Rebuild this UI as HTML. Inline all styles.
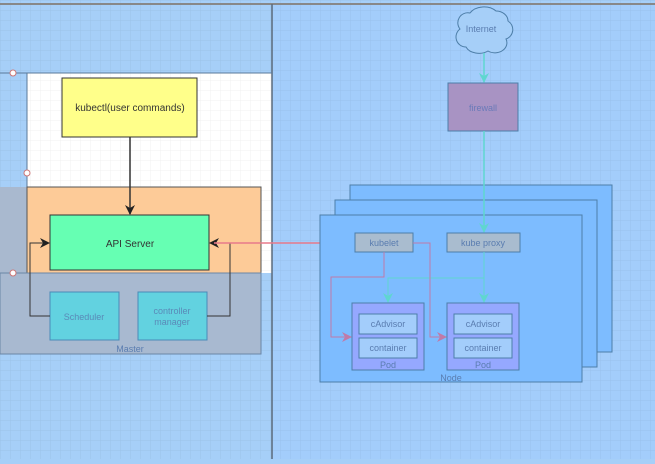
<!DOCTYPE html><html><head><style>
body{margin:0;width:655px;height:459px;overflow:hidden;background:#a6cff8;font-family:"Liberation Sans",sans-serif}
</style></head><body>
<svg width="655" height="459" xmlns="http://www.w3.org/2000/svg" font-family="Liberation Sans, sans-serif">
<defs>
<pattern id="g" width="10" height="10" patternUnits="userSpaceOnUse"><path d="M10 0H0V10" fill="none" stroke="#000" stroke-opacity="0.06"/></pattern>
<marker id="ak" markerWidth="10" markerHeight="10" refX="9" refY="5" orient="auto" markerUnits="userSpaceOnUse"><path d="M0 0L10 5L0 10L3 5Z" fill="#222"/></marker>
<marker id="ap" markerWidth="10" markerHeight="10" refX="9" refY="5" orient="auto" markerUnits="userSpaceOnUse"><path d="M0 0L10 5L0 10L3 5Z" fill="#c07aa8"/></marker>
<marker id="at" markerWidth="10" markerHeight="10" refX="9" refY="5" orient="auto" markerUnits="userSpaceOnUse"><path d="M0 0L10 5L0 10L3 5Z" fill="#5fd6cf"/></marker>
</defs>
<rect x="0" y="0" width="655" height="459" fill="#a6cff8"/>
<rect x="272" y="4" width="383" height="455" fill="#a3cdfb"/>
<rect x="27" y="73" width="245" height="200" fill="#fff"/>
<rect x="0" y="0" width="655" height="459" fill="url(#g)"/>
<line x1="0" y1="4" x2="655" y2="4" stroke="#888" stroke-width="2"/>
<line x1="272" y1="4" x2="272" y2="459" stroke="#5a6a7a" stroke-width="1.5"/>
<path d="M0 73H272M27 73V187" stroke="#5a7a9a" stroke-width="1" fill="none"/>
<rect x="0" y="187" width="27" height="86" fill="#a9b9cf"/>
<rect x="27" y="187" width="234" height="86" fill="#fdcb98" stroke="#555" stroke-width="1"/>
<rect x="0" y="273" width="261" height="81" fill="#a8b9d0" stroke="#6a86a6" stroke-width="1"/>
<text x="130" y="352" font-size="9" fill="#5a7db0" text-anchor="middle">Master</text>
<circle cx="13" cy="73" r="3" fill="#fff" stroke="#c77"/><circle cx="27" cy="173" r="3" fill="#fff" stroke="#c77"/><circle cx="13" cy="273" r="3" fill="#fff" stroke="#c77"/>
<rect x="62" y="78" width="135" height="59" fill="#ffff8a" stroke="#333"/>
<text x="130" y="111" font-size="10" fill="#333" text-anchor="middle">kubectl(user commands)</text>
<line x1="130" y1="137" x2="130" y2="214" stroke="#333" stroke-width="1.5" marker-end="url(#ak)"/>
<rect x="50" y="215" width="159" height="55" fill="#66ffb3" stroke="#333"/>
<text x="130" y="247" font-size="10" fill="#333" text-anchor="middle">API Server</text>
<rect x="50" y="292" width="69" height="48" fill="#62d2e0" stroke="#4a8ab8"/>
<text x="84" y="320" font-size="9" fill="#5a8ab8" text-anchor="middle">Scheduler</text>
<rect x="138" y="292" width="69" height="48" fill="#62d2e0" stroke="#4a8ab8"/>
<text x="172" y="314" font-size="9" fill="#5a8ab8" text-anchor="middle">controller</text>
<text x="172" y="325" font-size="9" fill="#5a8ab8" text-anchor="middle">manager</text>
<path d="M50 316H30V243H49" fill="none" stroke="#333" stroke-width="1" marker-end="url(#ak)"/>
<path d="M207 316H230V243H210" fill="none" stroke="#333" stroke-width="1" marker-end="url(#ak)"/>
<line x1="214" y1="243" x2="354" y2="243" stroke="#e87a8a" stroke-width="1.5" marker-end="url(#ap)"/>
<rect x="350" y="185" width="262" height="167" fill="#7dbcff" stroke="#4d7ea8"/>
<rect x="335" y="200" width="262" height="167" fill="#7dbcff" stroke="#4d7ea8"/>
<rect x="320" y="215" width="262" height="167" fill="#7dbcff" stroke="#4d7ea8"/>
<text x="451" y="381" font-size="9" fill="#5a7db0" text-anchor="middle">Node</text>
<path d="M470 13a16 12 0 0 1 26 -2a12 10 0 0 1 12 10a10 10 0 0 1 -2 18a12 10 0 0 1 -18 12a14 10 0 0 1 -22 -4a10 10 0 0 1 -6 -18a10 10 0 0 1 10 -16z" fill="#a6cff8" stroke="#4d7ea8"/>
<text x="481" y="32" font-size="9" fill="#5a7db0" text-anchor="middle">Internet</text>
<line x1="484" y1="53" x2="484" y2="82" stroke="#5fd6cf" stroke-width="1.5" marker-end="url(#at)"/>
<rect x="448" y="83" width="70" height="48" fill="#a893c3" stroke="#4d7ea8"/>
<text x="483" y="111" font-size="9" fill="#6a7ab8" text-anchor="middle">firewall</text>
<line x1="484" y1="131" x2="484" y2="232" stroke="#5fd6cf" stroke-width="1.5" marker-end="url(#at)"/>
<rect x="355" y="233" width="58" height="19" fill="#a9bccf" stroke="#4d7ea8"/>
<text x="384" y="246" font-size="9" fill="#5a7db0" text-anchor="middle">kubelet</text>
<rect x="447" y="233" width="73" height="19" fill="#a9bccf" stroke="#4d7ea8"/>
<text x="483" y="246" font-size="9" fill="#5a7db0" text-anchor="middle">kube proxy</text>
<path d="M484 252V302M484 278H388V302" fill="none" stroke="#5fd6cf" stroke-width="1"/>
<path d="M484 290V302" stroke="#5fd6cf" marker-end="url(#at)"/><path d="M388 290V302" stroke="#5fd6cf" marker-end="url(#at)"/>
<path d="M384 252V277H331V337H351" fill="none" stroke="#c07aa8" stroke-width="1" marker-end="url(#ap)"/>
<path d="M413 243H430V337H446" fill="none" stroke="#c07aa8" stroke-width="1" marker-end="url(#ap)"/>
<g font-size="9" fill="#5a7db0" text-anchor="middle">
<rect x="352" y="303" width="72" height="67" fill="#95a8ff" stroke="#4d7ea8"/>
<rect x="359" y="314" width="58" height="20" fill="#a3cdfb" stroke="#4d7ea8"/>
<rect x="359" y="338" width="58" height="20" fill="#a3cdfb" stroke="#4d7ea8"/>
<text x="388" y="327">cAdvisor</text><text x="388" y="351">container</text><text x="388" y="368">Pod</text>
<rect x="447" y="303" width="72" height="67" fill="#95a8ff" stroke="#4d7ea8"/>
<rect x="454" y="314" width="58" height="20" fill="#a3cdfb" stroke="#4d7ea8"/>
<rect x="454" y="338" width="58" height="20" fill="#a3cdfb" stroke="#4d7ea8"/>
<text x="483" y="327">cAdvisor</text><text x="483" y="351">container</text><text x="483" y="368">Pod</text>
</g>
</svg></body></html>
